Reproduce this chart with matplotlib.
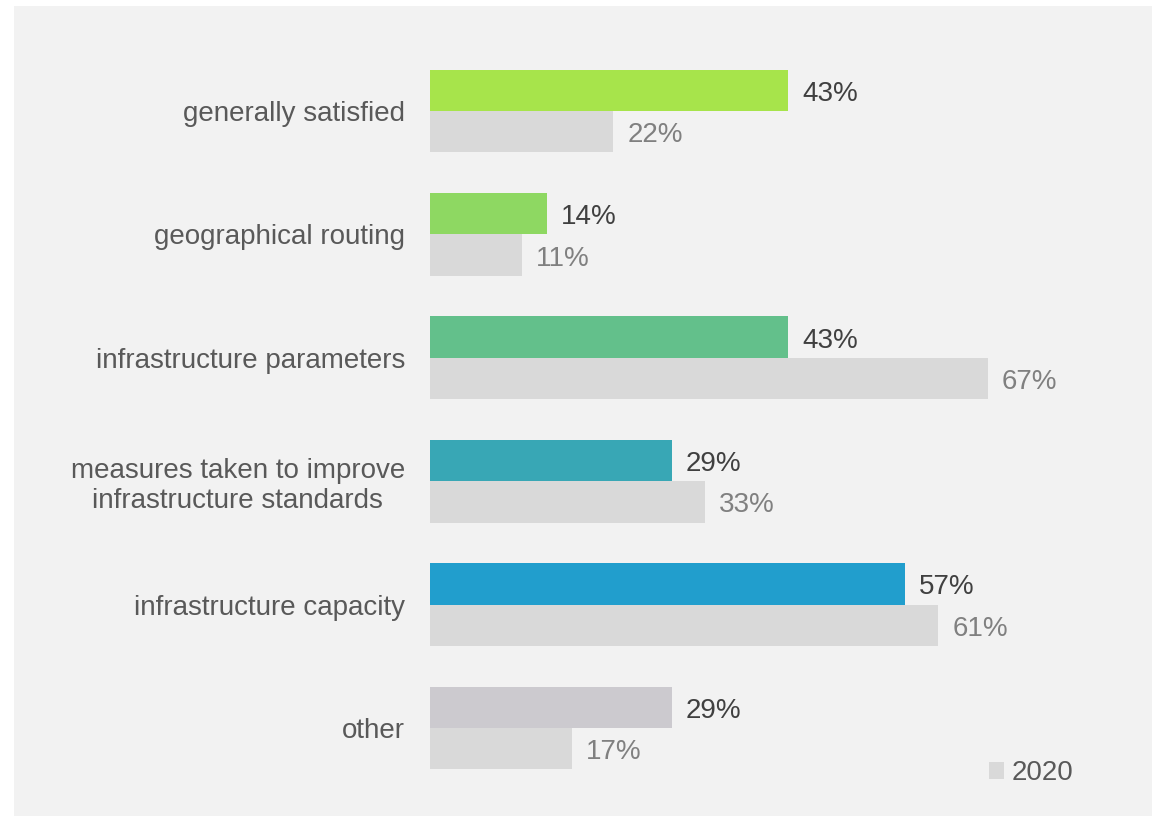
import matplotlib
matplotlib.use("Agg")
import matplotlib.pyplot as plt
import numpy as np
from matplotlib.patches import Rectangle, Patch

categories = ["generally satisfied", "geographical routing", "infrastructure parameters",
              "measures taken to improve\ninfrastructure standards", "infrastructure capacity", "other"]
values_2021 = [43, 14, 43, 29, 57, 29]
values_2020 = [22, 11, 67, 33, 61, 17]
colors_2021 = ["#a7e44b", "#8ed862", "#63c08b", "#38a7b5", "#219ecd", "#cccacf"]
color_2020 = "#d9d9d9"

plt.rcParams['font.family'] = ['Liberation Sans', 'DejaVu Sans']

W, H = 1160, 818
fig = plt.figure(figsize=(W / 100, H / 100), dpi=100)
fig.patch.set_facecolor("white")
# grey panel behind the chart
fig.add_artist(Rectangle((14 / W, 1 - 816 / H), (1152 - 14) / W, (816 - 6) / H,
                         transform=fig.transFigure, facecolor="#f2f2f2",
                         edgecolor="none", zorder=-10))

# axes placed in pixel terms
x0, x1 = 430, 1150
top, bot = 6, 816
ax = fig.add_axes([x0 / W, 1 - bot / H, (x1 - x0) / W, (bot - top) / H])
ax.set_zorder(5)
ax.set_facecolor("none")
pxper = 8.33
ax.set_xlim(0, (x1 - x0) / pxper)
step = 123.4
ax.set_ylim((bot - 111) / step, (top - 111) / step)

y = np.arange(len(categories))
h = 0.336
ax.barh(y - h / 2, values_2021, height=h, color=colors_2021, zorder=2)
ax.barh(y + h / 2, values_2020, height=h, color=color_2020, zorder=2)

dy = 3.5 / step  # labels sit a touch below the bar centre
for i in range(len(categories)):
    ax.text(values_2021[i] + 14 / pxper, y[i] - h / 2 + dy, "%d%%" % values_2021[i],
            va="center", ha="left", fontsize=20, color="#404040")
    ax.text(values_2020[i] + 14 / pxper, y[i] + h / 2 + dy, "%d%%" % values_2020[i],
            va="center", ha="left", fontsize=20, color="#808080")

ax.set_yticks(y)
ax.set_yticklabels(categories, fontsize=20, color="#595959", multialignment="center")
ax.tick_params(axis="y", length=0, pad=18)
ax.set_xticks([])
for s in ax.spines.values():
    s.set_visible(False)

leg = ax.legend(handles=[Patch(facecolor=color_2020, label="2020")], loc="lower right",
                bbox_to_anchor=(1087 / W, 1 - 800 / H), bbox_transform=fig.transFigure,
                frameon=False, fontsize=20, handlelength=0.55, handleheight=0.55,
                handletextpad=0.25, borderpad=0)
for t in leg.get_texts():
    t.set_color("#595959")

fig.savefig("out.png", dpi=100)
